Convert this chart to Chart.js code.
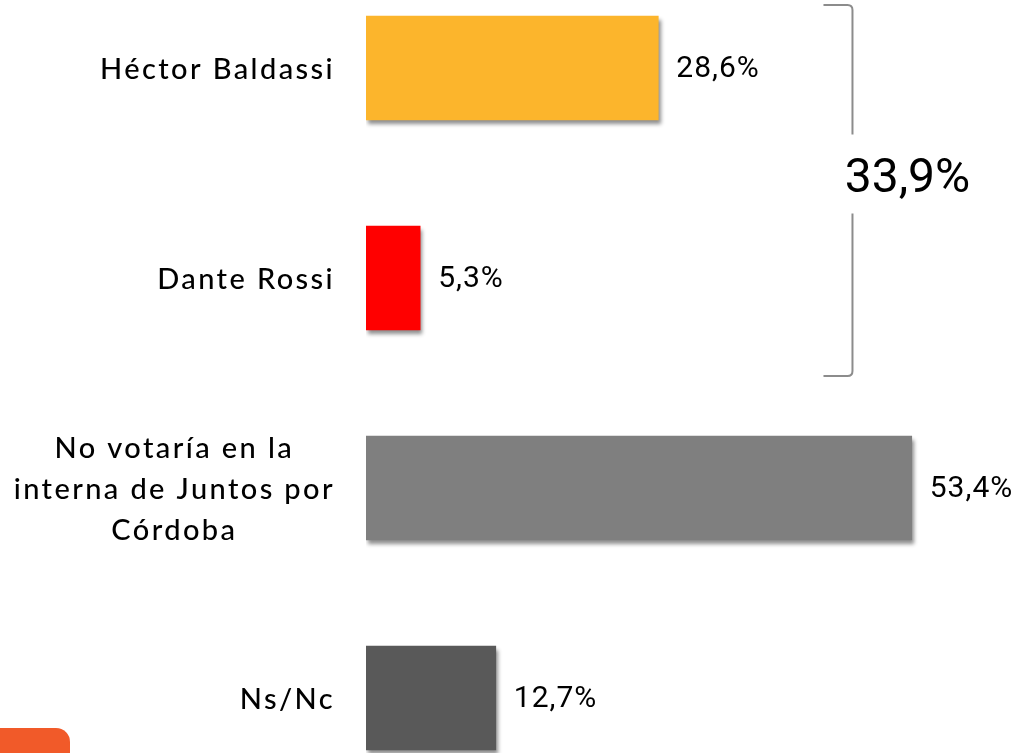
<!DOCTYPE html>
<html>
<head>
<meta charset="utf-8">
<script src="https://cdn.jsdelivr.net/npm/chart.js@4"></script>
<style>
  html, body { margin: 0; padding: 0; background: #fff; overflow: hidden; }
  body { width: 1016px; height: 753px; position: relative; }
  #wrap { position: absolute; left: 0; top: -37px; width: 1016px; height: 840px; }
  #corner { position: absolute; left: 0; top: 728px; width: 70px; height: 30px; background: #f15a29; border-top-right-radius: 14px; }
</style>
</head>
<body>
<div id="wrap"><canvas id="chart" width="1016" height="840"></canvas></div>
<div id="corner"></div>
<script>
// data
const categories = [
    ["Héctor Baldassi"],
    ["Dante Rossi"],
    ["No votaría en la", "interna de Juntos por", "Córdoba"],
    ["Ns/Nc"],
];
const values = [28.6, 5.3, 53.4, 12.7];
const valueLabels = ["28,6%", "5,3%", "53,4%", "12,7%"];
const barColors = ["#fcb52c", "#ff0000", "#7f7f7f", "#595959"];
const groupTotal = "33,9%"; // Baldassi + Rossi

const labelFont = "500 29px Lato, 'Open Sans', sans-serif";
const valueFont = "30px Roboto, sans-serif";

// shadow under the bars
const shadowPlugin = {
    id: "shadow",
    beforeDatasetsDraw(chart) {
        const ctx = chart.ctx;
        ctx.save();
        ctx.shadowColor = "rgba(0,0,0,0.45)";
        ctx.shadowBlur = 4;
        ctx.shadowOffsetX = 2;
        ctx.shadowOffsetY = 4;
    },
    afterDatasetsDraw(chart) {
        chart.ctx.restore();
    },
};

// category labels, value labels and the bracket
const textPlugin = {
    id: "texts",
    afterDraw(chart) {
        const ctx = chart.ctx;
        const y = chart.scales.y;
        const x = chart.scales.x;
        const meta = chart.getDatasetMeta(0);
        ctx.save();
        ctx.fillStyle = "#000";
        ctx.textBaseline = "middle";

        // category labels
        ctx.font = labelFont;
        if (ctx.letterSpacing !== undefined) ctx.letterSpacing = "2.4px";
        const rightEdge = x.left - 31;
        categories.forEach((lines, i) => {
            const cy = y.getPixelForValue(i) + 2;
            const maxW = Math.max(...lines.map((l) => ctx.measureText(l).width));
            const cx = rightEdge - maxW / 2;
            const lh = 41;
            ctx.textAlign = "center";
            lines.forEach((l, j) => {
                ctx.fillText(l, cx, cy + (j - (lines.length - 1) / 2) * lh);
            });
        });

        // value labels
        ctx.font = valueFont;
        if (ctx.letterSpacing !== undefined) ctx.letterSpacing = "1px";
        ctx.textAlign = "left";
        meta.data.forEach((bar, i) => {
            ctx.fillText(valueLabels[i], bar.x + 18, bar.y + 1);
        });
        if (ctx.letterSpacing !== undefined) ctx.letterSpacing = "0px";

        // bracket around the first two bars
        const top = meta.data[0].y - meta.data[0].height / 2 - 11;
        const bot = meta.data[1].y + meta.data[1].height / 2 + 46;
        const bx = x.getPixelForValue(47.6);
        const mid = (top + bot) / 2;
        ctx.strokeStyle = "#8c8c8c";
        ctx.lineWidth = 2;
        ctx.beginPath();
        ctx.moveTo(bx - 29, top);
        ctx.lineTo(bx - 5, top);
        ctx.quadraticCurveTo(bx, top, bx, top + 5);
        ctx.lineTo(bx, mid - 56);
        ctx.moveTo(bx, mid + 23);
        ctx.lineTo(bx, bot - 5);
        ctx.quadraticCurveTo(bx, bot, bx - 5, bot);
        ctx.lineTo(bx - 29, bot);
        ctx.stroke();

        ctx.font = "48px Roboto, sans-serif";
        ctx.textAlign = "center";
        ctx.fillText(groupTotal, bx + 55, mid - 11);
        ctx.restore();
    },
};

new Chart(document.getElementById("chart"), {
    type: "bar",
    data: {
        labels: categories,
        datasets: [
            {
                data: values,
                backgroundColor: barColors,
                borderWidth: 0,
                barThickness: 104,
            },
        ],
    },
    options: {
        indexAxis: "y",
        responsive: false,
        animation: false,
        layout: { padding: { left: 366, right: 0, top: 0, bottom: 0 } },
        scales: {
            x: { display: false, min: 0, max: 63.6 },
            y: { display: false },
        },
        plugins: {
            legend: { display: false },
            tooltip: { enabled: false },
        },
    },
    plugins: [shadowPlugin, textPlugin],
});
</script>
</body>
</html>
